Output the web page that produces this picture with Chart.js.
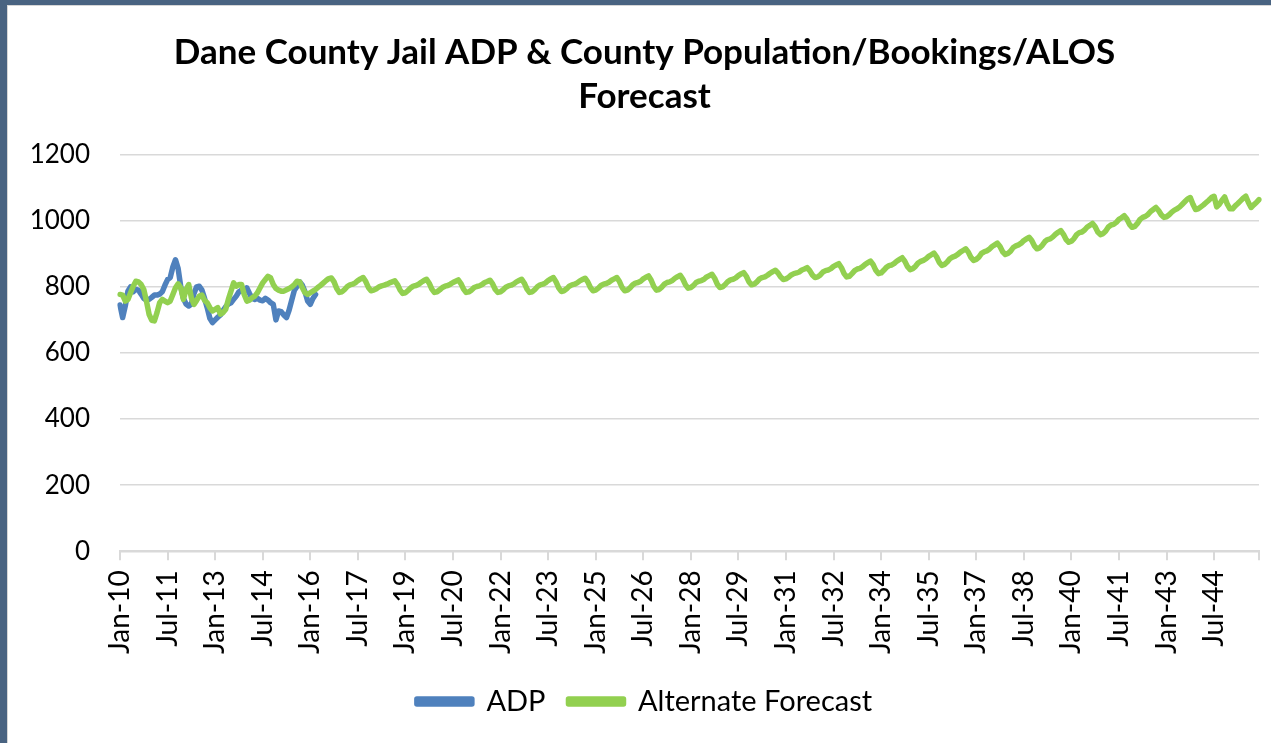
<!DOCTYPE html>
<html>
<head>
<meta charset="utf-8">
<title>Dane County Jail ADP Forecast</title>
<script src="https://cdn.jsdelivr.net/npm/chart.js@4.4.1/dist/chart.umd.min.js"></script>
<style>
  html, body { margin: 0; padding: 0; }
  body { background: #496381; width: 1271px; height: 743px; overflow: hidden; }
  #frame {
    position: absolute; left: 7px; top: 5px; width: 1264px; height: 738px;
    background: #fff; border-left: 1px solid #d6d6d6; border-top: 1px solid #d6d6d6;
  }
  #wrap { position: absolute; left: 0; top: 0; width: 1263px; height: 737px; }
</style>
</head>
<body>
<div id="frame"><div id="wrap"><canvas id="jailChart"></canvas></div></div>
<script>
// month labels Jan-10 ... Dec-45
const monthNames = ['Jan','Feb','Mar','Apr','May','Jun','Jul','Aug','Sep','Oct','Nov','Dec'];
const firstYear = 2010;
const lastYear = 2045;
const categories = [];
for (let y = firstYear; y <= lastYear; y++) {
  monthNames.forEach(m => categories.push(m + '-' + String(y).slice(2)));
}
const labelEvery = 18; // a label every 18 months

const yTicks = [0, 200, 400, 600, 800, 1000, 1200];

// actual ADP, Jan-10 to Mar-16
const adp = [
  745, 707, 742, 787, 800, 785, 792, 790, 778, 765, 760, 762,
  768, 775, 775, 778, 785, 805, 822, 828, 860, 882, 855, 800,
  765, 748, 742, 748, 780, 800, 802, 790, 765, 737, 705, 692,
  700, 708, 715, 728, 740, 748, 752, 762, 772, 785, 790, 785,
  797, 780, 765, 762, 765, 760, 758, 765, 760, 752, 747, 700,
  727, 725, 715, 707, 730, 760, 790, 802, 815, 805, 785, 757,
  747, 765, 777
];

// alternate forecast, one row per year 2010 - 2045
const altForecast = [
  777, 775, 757, 762, 782, 802, 817, 815, 807, 792, 757, 717,
  699, 697, 722, 752, 762, 757, 752, 757, 777, 797, 809, 797,
  762, 792, 807, 767, 747, 759, 772, 775, 759, 752, 737, 727,
  732, 737, 717, 722, 732, 762, 787, 812, 802, 807, 807, 777,
  757, 760, 767, 772, 782, 797, 812, 822, 832, 827, 807, 795,
  790, 787, 787, 791, 795, 800, 807, 817, 815, 797, 782, 777,
  782, 787, 792, 799, 805, 812, 819, 825, 827, 815, 795, 783,
  785, 792, 801, 806, 808, 812, 819, 824, 828, 816, 798, 788,
  790, 794, 800, 803, 805, 808, 812, 815, 818, 807, 790, 780,
  782, 789, 797, 802, 804, 808, 814, 819, 823, 811, 793, 783,
  785, 791, 798, 802, 804, 808, 813, 817, 821, 810, 793, 783,
  785, 790, 798, 801, 803, 807, 813, 816, 820, 809, 792, 783,
  785, 791, 799, 803, 805, 809, 815, 819, 823, 811, 793, 783,
  785, 792, 801, 806, 808, 812, 819, 824, 828, 815, 797, 786,
  788, 794, 802, 806, 808, 812, 818, 822, 826, 815, 798, 788,
  790, 796, 804, 808, 810, 814, 820, 824, 828, 816, 798, 788,
  790, 797, 806, 811, 813, 817, 824, 829, 833, 820, 801, 790,
  792, 799, 808, 813, 815, 819, 826, 831, 835, 823, 806, 796,
  798, 804, 813, 817, 819, 823, 830, 834, 838, 826, 808, 798,
  800, 807, 816, 821, 823, 827, 834, 839, 843, 832, 815, 806,
  808, 815, 824, 828, 830, 835, 841, 846, 850, 842, 830, 822,
  824, 829, 836, 840, 842, 845, 851, 854, 858, 849, 836, 828,
  830, 836, 845, 849, 851, 855, 862, 866, 870, 858, 840, 830,
  832, 840, 849, 854, 856, 861, 868, 873, 878, 867, 850, 840,
  842, 850, 859, 864, 866, 871, 878, 883, 888, 877, 861, 852,
  855, 862, 872, 877, 880, 885, 892, 897, 902, 891, 874, 865,
  868, 875, 885, 890, 893, 898, 905, 910, 915, 905, 889, 880,
  883, 890, 901, 906, 909, 914, 922, 927, 932, 922, 906, 898,
  901, 908, 919, 924, 927, 932, 940, 945, 950, 940, 924, 915,
  918, 926, 937, 943, 945, 951, 959, 965, 970, 959, 943, 935,
  938, 946, 958, 964, 966, 972, 981, 986, 992, 982, 966, 958,
  961, 969, 981, 987, 989, 995, 1004, 1009, 1015, 1005, 989, 980,
  983, 992, 1004, 1010, 1013, 1019, 1028, 1034, 1040, 1031, 1018, 1010,
  1012, 1018, 1026, 1032, 1036, 1042, 1050, 1058, 1066, 1070, 1050, 1034,
  1036, 1042, 1048, 1055, 1062, 1070, 1074, 1042, 1050, 1062, 1072, 1050,
  1036, 1036, 1045, 1052, 1060, 1068, 1074, 1055, 1040, 1048, 1055, 1064
];

const fontFamily = "Lato, 'Open Sans', sans-serif";
const gridColor = '#d9d9d9';

const ctx = document.getElementById('jailChart').getContext('2d');
const jailChart = new Chart(ctx, {
  type: 'line',
  data: {
    labels: categories,
    datasets: [
      {
        label: 'ADP',
        data: adp,
        borderColor: '#4f81bd',
        backgroundColor: '#4f81bd',
        borderWidth: 5.5,
        pointRadius: 0,
        borderCapStyle: 'round',
        borderJoinStyle: 'round',
        order: 1
      },
      {
        label: 'Alternate Forecast',
        data: altForecast,
        borderColor: '#92d050',
        backgroundColor: '#92d050',
        borderWidth: 5.5,
        pointRadius: 0,
        borderCapStyle: 'round',
        borderJoinStyle: 'round',
        order: 0 // drawn on top of ADP
      }
    ]
  },
  options: {
    responsive: true,
    maintainAspectRatio: false,
    animation: false,
    layout: { padding: { left: 22, right: 12, top: 0, bottom: 17 } },
    scales: {
      x: {
        offset: false,
        // rotated labels should not push the plot in from the sides
        afterFit: axis => { axis.paddingLeft = 0; axis.paddingRight = 0; },
        border: { display: true, color: gridColor, width: 2 },
        grid: {
          drawOnChartArea: false,
          drawTicks: true,
          tickLength: 9,
          color: gridColor,
          lineWidth: 2
        },
        ticks: {
          autoSkip: false,
          maxRotation: 90,
          minRotation: 90,
          padding: 10,
          color: '#000',
          font: { family: fontFamily, size: 28 },
          callback: function(value, index) {
            if (index % labelEvery === 0) return this.getLabelForValue(value);
            if (index === categories.length - 1) return '';
            return null;
          }
        }
      },
      y: {
        min: yTicks[0],
        max: yTicks[yTicks.length - 1],
        afterBuildTicks: axis => { axis.ticks = yTicks.map(v => ({ value: v })); },
        afterFit: axis => { axis.width = 90; },
        border: { display: false },
        grid: { drawTicks: false, color: gridColor, lineWidth: 1.5 },
        ticks: {
          padding: 30,
          color: '#000',
          font: { family: fontFamily, size: 26 },
          callback: value => String(value)
        }
      }
    },
    plugins: {
      title: {
        display: true,
        text: ['Dane County Jail ADP & County Population/Bookings/ALOS', 'Forecast'],
        color: '#000',
        font: { family: fontFamily, size: 35, weight: 'bold', lineHeight: 1.28 },
        padding: { top: 24, bottom: 35 }
      },
      legend: {
        position: 'bottom',
        labels: {
          boxWidth: 55,
          boxHeight: 5,
          padding: 23,
          color: '#000',
          font: { family: fontFamily, size: 29 },
          sort: (a, b) => a.datasetIndex - b.datasetIndex
        }
      },
      tooltip: { enabled: false }
    }
  }
});
</script>
</body>
</html>
